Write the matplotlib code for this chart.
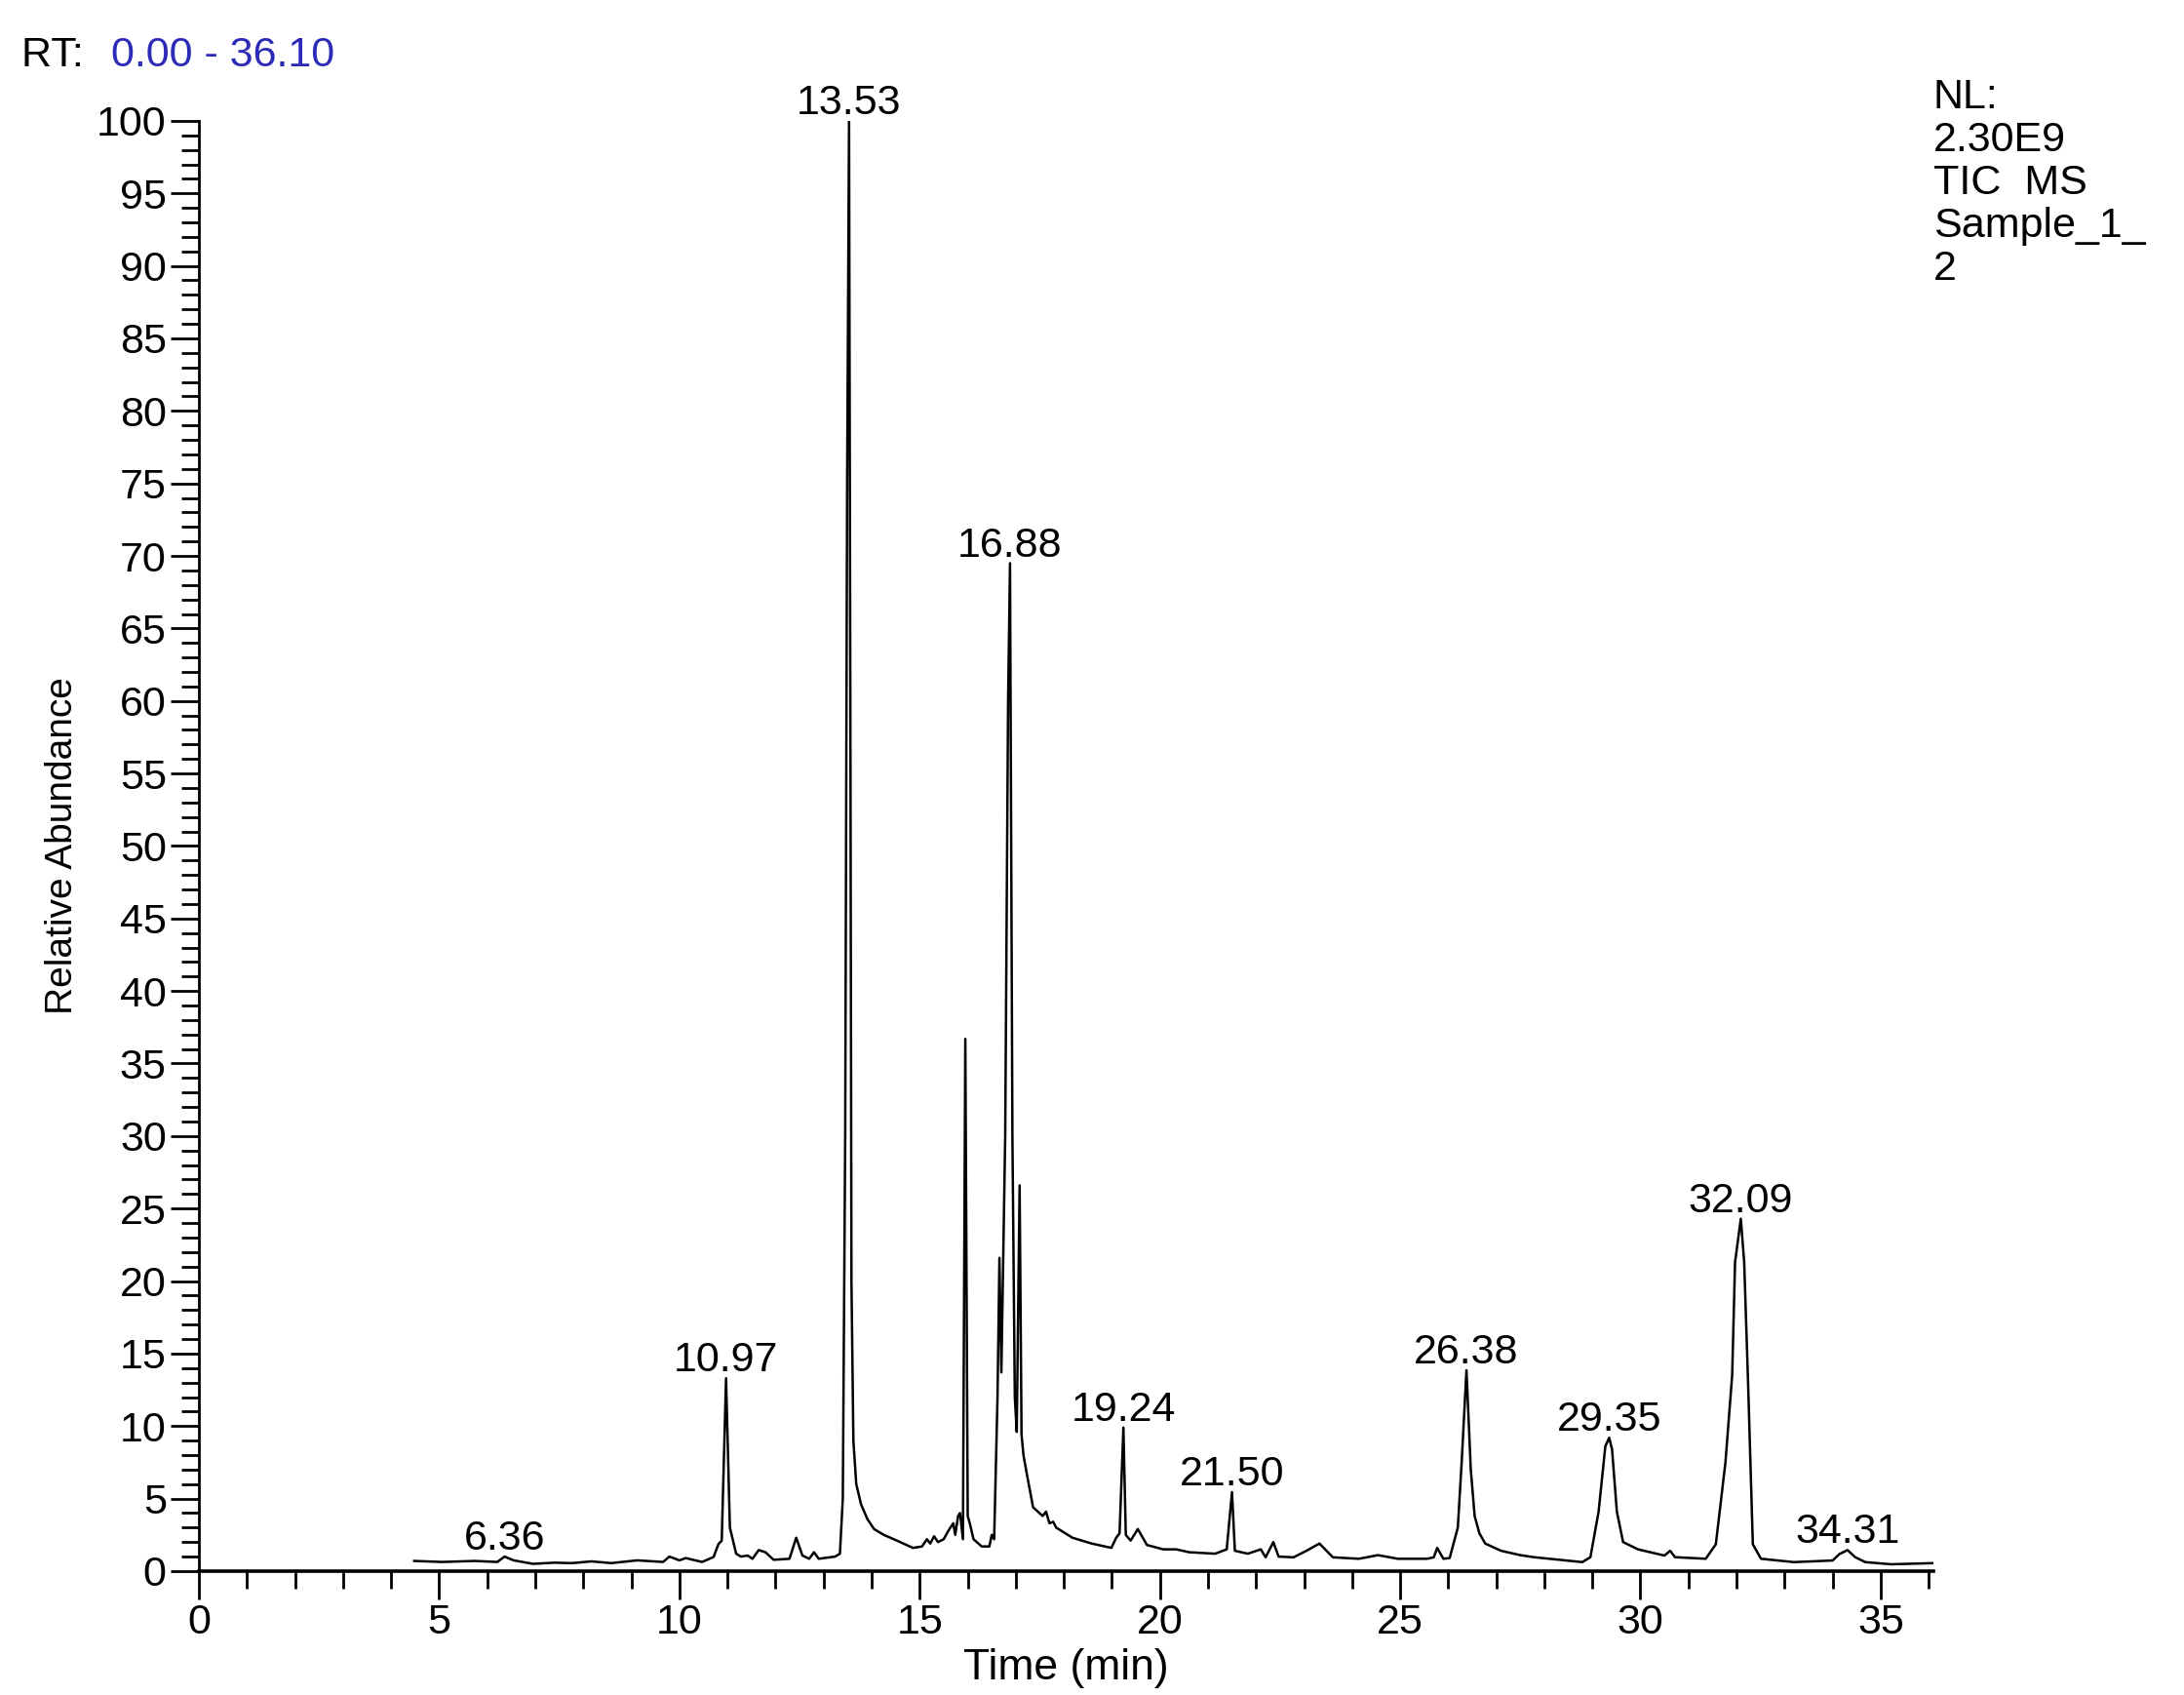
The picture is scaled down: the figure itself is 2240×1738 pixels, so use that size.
import matplotlib

matplotlib.use("Agg")
import matplotlib.pyplot as plt
from matplotlib.ticker import MultipleLocator

plt.rcParams["font.family"] = ["Liberation Sans", "DejaVu Sans"]

# TIC trace (time in min, relative abundance in %)
times = [
    4.48, 5.06, 5.74, 6.21, 6.36, 6.55, 6.95, 7.40, 7.76, 8.17, 8.58, 9.12,
    9.66, 9.79, 10.00, 10.13, 10.47, 10.71, 10.81, 10.88, 10.97, 11.05, 11.18,
    11.28, 11.42, 11.52, 11.65, 11.79, 11.96, 12.29, 12.43, 12.56, 12.70,
    12.80, 12.90, 13.24, 13.34, 13.40, 13.45, 13.49, 13.53, 13.56, 13.58,
    13.62, 13.68, 13.78, 13.91, 14.05, 14.25, 14.46, 14.86, 15.05, 15.15,
    15.22, 15.30, 15.38, 15.50, 15.60, 15.70, 15.74, 15.80, 15.84, 15.90,
    15.95, 16.00, 16.05, 16.12, 16.29, 16.45, 16.50, 16.55, 16.62, 16.66,
    16.70, 16.78, 16.84, 16.88, 16.93, 16.98, 17.02, 17.08, 17.12, 17.16,
    17.23, 17.36, 17.56, 17.63, 17.70, 17.78, 17.84, 18.18, 18.58, 18.99,
    19.09, 19.16, 19.24, 19.29, 19.39, 19.54, 19.73, 20.07, 20.34, 20.61,
    21.15, 21.39, 21.50, 21.56, 21.83, 22.10, 22.20, 22.36, 22.47, 22.78,
    23.05, 23.32, 23.60, 24.14, 24.54, 24.95, 25.56, 25.70, 25.77, 25.90,
    26.03, 26.20, 26.28, 26.38, 26.47, 26.55, 26.65, 26.77, 27.10, 27.50,
    27.78, 28.79, 28.96, 29.13, 29.27, 29.35, 29.41, 29.51, 29.64, 29.95,
    30.50, 30.62, 30.72, 31.36, 31.57, 31.77, 31.91, 31.97, 32.09, 32.16,
    32.24, 32.34, 32.51, 33.19, 34.00, 34.14, 34.31, 34.47, 34.68, 35.22,
    36.10,
]
abundance = [
    0.70, 0.63, 0.70, 0.63, 1.00, 0.74, 0.50, 0.58, 0.55, 0.67, 0.55, 0.74,
    0.63, 1.00, 0.74, 0.90, 0.63, 0.97, 1.85, 2.10, 13.30, 3.00, 1.20,
    1.00, 1.07, 0.85, 1.45, 1.30, 0.78, 0.85, 2.30, 1.07, 0.85,
    1.30, 0.85, 1.00, 1.20, 5.00, 30.0, 75.0, 100.0, 55.0, 20.0,
    9.00, 6.00, 4.60, 3.60, 2.90, 2.50, 2.20, 1.60, 1.70, 2.20,
    1.90, 2.40, 2.00, 2.20, 2.80, 3.30, 2.50, 3.80, 4.00, 2.20,
    36.7, 3.80, 3.20, 2.20, 1.70, 1.70, 2.50, 2.20, 12.0, 21.6,
    13.7, 30.0, 60.0, 69.5, 30.0, 12.0, 9.60, 26.6, 9.40, 8.00,
    6.70, 4.40, 3.80, 4.10, 3.30, 3.40, 3.00, 2.30, 1.90, 1.60,
    2.30, 2.60, 9.90, 2.50, 2.10, 2.90, 1.80, 1.50, 1.50, 1.30,
    1.20, 1.50, 5.45, 1.40, 1.20, 1.50, 0.95, 2.00, 1.00, 0.95,
    1.40, 1.90, 0.95, 0.85, 1.10, 0.85, 0.85, 0.95, 1.60, 0.85,
    0.90, 3.00, 7.50, 13.85, 7.00, 3.80, 2.60, 1.90, 1.40, 1.10,
    0.96, 0.62, 0.96, 4.10, 8.60, 9.20, 8.40, 4.10, 2.00, 1.50,
    1.07, 1.40, 0.96, 0.85, 1.85, 7.50, 13.5, 21.3, 24.3, 21.3,
    13.1, 1.85, 0.85, 0.62, 0.73, 1.17, 1.45, 0.96, 0.62, 0.47,
    0.55,
]

# labelled peaks
peak_rt = [6.36, 10.97, 13.53, 16.88, 19.24, 21.50, 26.38, 29.35, 32.09, 34.31]
peak_height = [1.00, 13.30, 100.0, 69.5, 9.90, 5.45, 13.85, 9.20, 24.3, 1.45]

header_lines = ["NL:", "2.30E9", "TIC  MS", "Sample_1_", "2"]

fig = plt.figure(figsize=(22.4, 17.38), dpi=100)
ax = fig.add_axes([0.0911, 0.0731, 0.7942, 0.8556])

ax.plot(times, abundance, color="black", lw=1.8)

for rt, h in zip(peak_rt, peak_height):
    ax.annotate(f"{rt:.2f}", xy=(rt, h), xytext=(0, 5), textcoords="offset points",
                ha="center", va="baseline", fontsize=31, clip_on=False)

ax.set_xlim(0, 36.1)
ax.set_ylim(0, 100)
for side in ("top", "right"):
    ax.spines[side].set_visible(False)
ax.spines["left"].set_linewidth(2.0)
ax.spines["bottom"].set_linewidth(2.6)

ax.xaxis.set_major_locator(MultipleLocator(5))
ax.xaxis.set_minor_locator(MultipleLocator(1))
ax.yaxis.set_major_locator(MultipleLocator(5))
ax.yaxis.set_minor_locator(MultipleLocator(1))
ax.tick_params(which="major", direction="out", length=21, width=2.0,
               labelsize=31, pad=3)
ax.tick_params(which="minor", direction="out", length=13, width=2.0)

ax.set_xlabel("Time (min)", fontsize=32, labelpad=4)
ax.set_ylabel("Relative Abundance", fontsize=28, labelpad=12)

fig.text(22 / 2240, 1 - 68 / 1738, "RT: ", fontsize=31, ha="left", va="baseline")
fig.text(114 / 2240, 1 - 68 / 1738, "0.00 - 36.10", fontsize=31, color="#2b2bb8",
         ha="left", va="baseline")
fig.text(1983 / 2240, 1 - 80 / 1738, "\n".join(header_lines), fontsize=31,
         ha="left", va="top", linespacing=1.13)

fig.savefig("out.png", dpi=100)
